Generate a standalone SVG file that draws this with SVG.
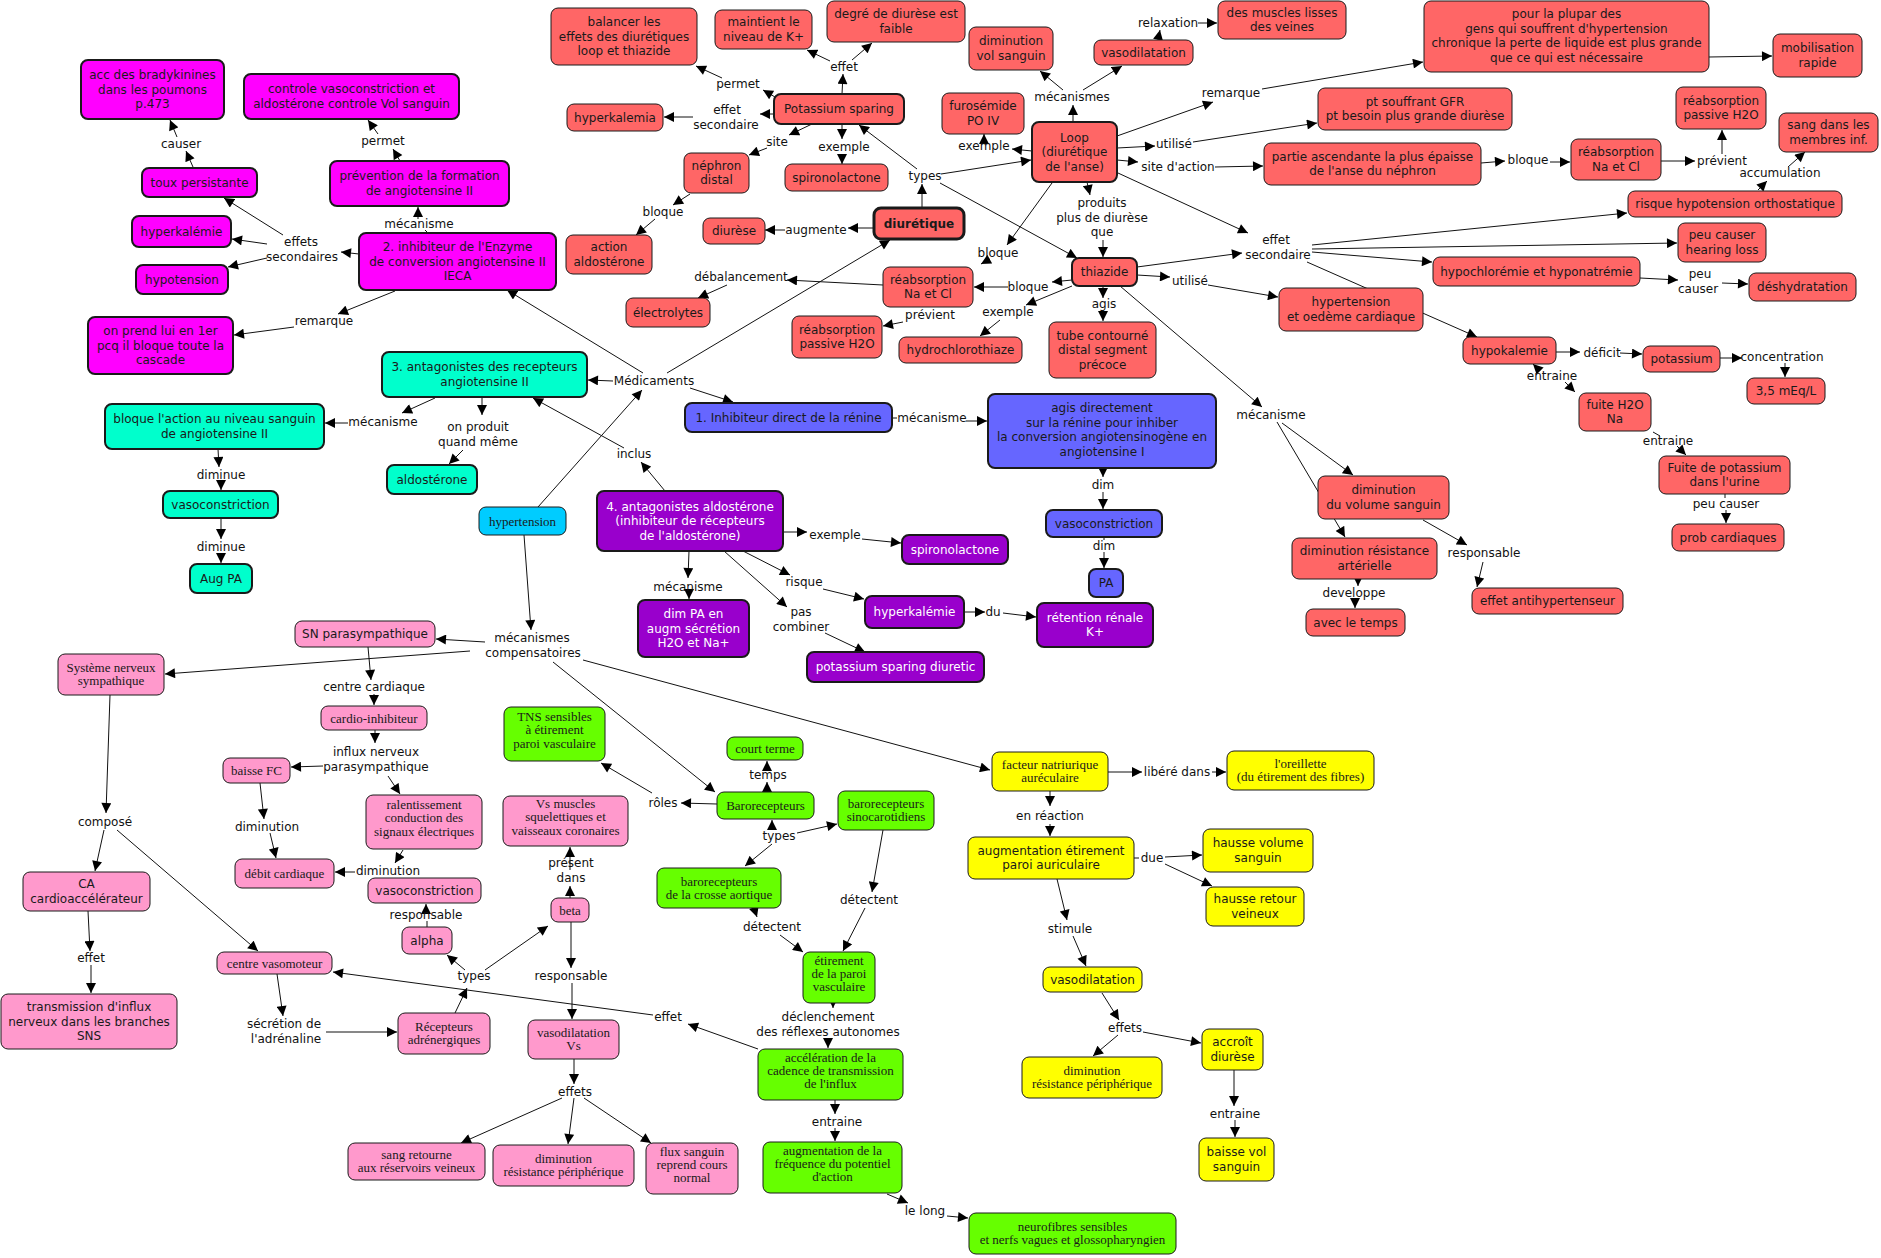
<svg xmlns="http://www.w3.org/2000/svg" width="1881" height="1258" viewBox="0 0 1881 1258">
<defs>
<marker id="ah" viewBox="0 0 10 10" refX="10" refY="5" markerWidth="11" markerHeight="10" markerUnits="userSpaceOnUse" orient="auto"><path d="M0,0 L10,5 L0,10 z" fill="#000"/></marker>
<style>
.n rect{stroke:#1a1a1a;stroke-width:1}
.red rect{fill:#FF6666}
.mag rect{fill:#FF00FF;stroke-width:2}
.teal rect{fill:#00FFCC;stroke-width:2}
.blue rect{fill:#6666FF;stroke-width:2}
.pur rect{fill:#9900CC;stroke-width:2}
.pur text{fill:#ffffff}
.cyan rect{fill:#00CCFF}
.pink rect{fill:#FF99CC}
.grn rect{fill:#66FF00}
.yel rect{fill:#FFFF00}
.n.b2 rect{stroke-width:2}
.n.b3 rect{stroke-width:3}
text{font-family:"DejaVu Sans",Verdana,sans-serif;font-size:12px;text-anchor:middle;fill:#1a1a1a}
.sf text{font-family:"Liberation Serif","Times New Roman",serif;font-size:13px}
.bold text{font-weight:bold}
#links line{stroke:#111;stroke-width:1;marker-end:url(#ah)}
#links line.p{marker-end:none}
#labels text{fill:#111}
</style>
</defs>
<rect width="1881" height="1258" fill="#ffffff"/>
<g id="links">
<line x1="193" y1="167" x2="186" y2="151"/>
<line x1="177" y1="137" x2="170" y2="120"/>
<line x1="400" y1="161" x2="393" y2="149"/>
<line x1="378" y1="134" x2="368" y2="120"/>
<line class="p" x1="428" y1="233" x2="425" y2="230"/>
<line x1="418" y1="219" x2="418" y2="207"/>
<line x1="359" y1="254" x2="341" y2="252"/>
<line x1="283" y1="235" x2="224" y2="198"/>
<line x1="267" y1="244" x2="232" y2="239"/>
<line x1="267" y1="258" x2="228" y2="267"/>
<line x1="395" y1="291" x2="338" y2="314"/>
<line x1="294" y1="327" x2="234" y2="335"/>
<line x1="435" y1="398" x2="402" y2="413"/>
<line x1="348" y1="423" x2="325" y2="423"/>
<line x1="482" y1="397" x2="482" y2="415"/>
<line x1="463" y1="450" x2="449" y2="464"/>
<line x1="218" y1="449" x2="219" y2="467"/>
<line x1="221" y1="482" x2="221" y2="490"/>
<line x1="221" y1="518" x2="221" y2="539"/>
<line x1="221" y1="554" x2="221" y2="563"/>
<line x1="538" y1="507" x2="642" y2="390"/>
<line x1="643" y1="373" x2="507" y2="290"/>
<line x1="613" y1="381" x2="588" y2="380"/>
<line x1="667" y1="373" x2="890" y2="240"/>
<line x1="690" y1="388" x2="733" y2="402"/>
<line x1="665" y1="491" x2="641" y2="462"/>
<line x1="624" y1="448" x2="533" y2="398"/>
<line x1="775" y1="97" x2="763" y2="90"/>
<line x1="722" y1="78" x2="696" y2="66"/>
<line x1="842" y1="94" x2="843" y2="74"/>
<line x1="830" y1="61" x2="807" y2="50"/>
<line x1="852" y1="60" x2="872" y2="43"/>
<line x1="774" y1="114" x2="760" y2="114"/>
<line x1="693" y1="117" x2="664" y2="117"/>
<line x1="812" y1="124" x2="789" y2="135"/>
<line x1="767" y1="148" x2="749" y2="155"/>
<line x1="842" y1="124" x2="842" y2="139"/>
<line x1="842" y1="154" x2="842" y2="164"/>
<line x1="922" y1="208" x2="922" y2="184"/>
<line x1="917" y1="169" x2="859" y2="125"/>
<line x1="941" y1="174" x2="1031" y2="160"/>
<line x1="940" y1="183" x2="1077" y2="258"/>
<line x1="690" y1="194" x2="673" y2="205"/>
<line x1="655" y1="219" x2="636" y2="235"/>
<line x1="874" y1="228" x2="848" y2="228"/>
<line x1="785" y1="230" x2="765" y2="230"/>
<line x1="883" y1="285" x2="787" y2="280"/>
<line x1="727" y1="285" x2="698" y2="298"/>
<line x1="903" y1="322" x2="883" y2="326"/>
<line x1="1073" y1="122" x2="1073" y2="105"/>
<line x1="1063" y1="90" x2="1040" y2="71"/>
<line x1="1083" y1="90" x2="1122" y2="66"/>
<line x1="1158" y1="40" x2="1160" y2="30"/>
<line x1="1198" y1="23" x2="1217" y2="23"/>
<line x1="1032" y1="151" x2="1012" y2="149"/>
<line x1="984" y1="140" x2="984" y2="134"/>
<line x1="1117" y1="136" x2="1213" y2="102"/>
<line x1="1262" y1="89" x2="1423" y2="62"/>
<line x1="1709" y1="57" x2="1772" y2="56"/>
<line x1="1117" y1="148" x2="1155" y2="146"/>
<line x1="1193" y1="142" x2="1317" y2="123"/>
<line x1="1117" y1="160" x2="1138" y2="162"/>
<line x1="1215" y1="167" x2="1263" y2="166"/>
<line x1="1481" y1="163" x2="1505" y2="161"/>
<line x1="1550" y1="162" x2="1570" y2="162"/>
<line x1="1661" y1="161" x2="1695" y2="161"/>
<line x1="1722" y1="154" x2="1722" y2="130"/>
<line x1="1087" y1="182" x2="1090" y2="195"/>
<line x1="1103" y1="240" x2="1103" y2="257"/>
<line x1="1052" y1="183" x2="1007" y2="245"/>
<line x1="990" y1="259" x2="981" y2="264"/>
<line x1="1118" y1="173" x2="1248" y2="233"/>
<line x1="1137" y1="267" x2="1242" y2="253"/>
<line x1="1072" y1="280" x2="1052" y2="282"/>
<line x1="1008" y1="287" x2="974" y2="287"/>
<line x1="1072" y1="286" x2="1026" y2="305"/>
<line x1="1000" y1="320" x2="980" y2="336"/>
<line x1="1103" y1="286" x2="1103" y2="298"/>
<line x1="1103" y1="310" x2="1103" y2="321"/>
<line x1="1137" y1="275" x2="1170" y2="277"/>
<line x1="1208" y1="285" x2="1278" y2="297"/>
<line x1="1120" y1="286" x2="1262" y2="407"/>
<line x1="1312" y1="245" x2="1627" y2="213"/>
<line x1="1312" y1="249" x2="1677" y2="243"/>
<line x1="1312" y1="252" x2="1432" y2="262"/>
<line x1="1307" y1="262" x2="1477" y2="337"/>
<line x1="1640" y1="278" x2="1678" y2="280"/>
<line x1="1722" y1="283" x2="1748" y2="284"/>
<line x1="1758" y1="190" x2="1767" y2="181"/>
<line x1="1788" y1="167" x2="1805" y2="152"/>
<line x1="1556" y1="352" x2="1580" y2="352"/>
<line x1="1620" y1="353" x2="1642" y2="354"/>
<line x1="1720" y1="358" x2="1742" y2="358"/>
<line x1="1785" y1="363" x2="1785" y2="377"/>
<line x1="1540" y1="371" x2="1533" y2="364"/>
<line x1="1565" y1="382" x2="1575" y2="392"/>
<line class="p" x1="1653" y1="432" x2="1660" y2="436"/>
<line x1="1677" y1="446" x2="1686" y2="455"/>
<line class="p" x1="1725" y1="494" x2="1725" y2="498"/>
<line x1="1726" y1="510" x2="1726" y2="523"/>
<line x1="1282" y1="423" x2="1353" y2="475"/>
<line x1="1277" y1="422" x2="1345" y2="537"/>
<line x1="1358" y1="579" x2="1358" y2="586"/>
<line x1="1355" y1="600" x2="1355" y2="608"/>
<line x1="1423" y1="520" x2="1467" y2="545"/>
<line x1="1483" y1="562" x2="1477" y2="587"/>
<line class="p" x1="892" y1="418" x2="897" y2="418"/>
<line x1="966" y1="421" x2="987" y2="421"/>
<line x1="1103" y1="468" x2="1103" y2="477"/>
<line x1="1103" y1="492" x2="1103" y2="509"/>
<line class="p" x1="1104" y1="537" x2="1104" y2="540"/>
<line x1="1104" y1="552" x2="1104" y2="568"/>
<line x1="783" y1="532" x2="807" y2="532"/>
<line x1="862" y1="539" x2="901" y2="543"/>
<line x1="689" y1="551" x2="688" y2="578"/>
<line x1="689" y1="593" x2="689" y2="599"/>
<line x1="743" y1="551" x2="790" y2="575"/>
<line x1="823" y1="589" x2="864" y2="599"/>
<line x1="724" y1="551" x2="787" y2="607"/>
<line x1="825" y1="633" x2="865" y2="652"/>
<line x1="964" y1="612" x2="985" y2="612"/>
<line x1="1003" y1="613" x2="1036" y2="617"/>
<line x1="524" y1="535" x2="531" y2="630"/>
<line x1="485" y1="642" x2="436" y2="639"/>
<line x1="470" y1="651" x2="165" y2="674"/>
<line x1="553" y1="662" x2="715" y2="792"/>
<line x1="583" y1="660" x2="990" y2="770"/>
<line x1="368" y1="647" x2="371" y2="680"/>
<line x1="374" y1="694" x2="374" y2="705"/>
<line x1="375" y1="730" x2="375" y2="743"/>
<line x1="323" y1="766" x2="291" y2="767"/>
<line x1="388" y1="776" x2="400" y2="794"/>
<line x1="110" y1="695" x2="106" y2="813"/>
<line x1="260" y1="783" x2="264" y2="819"/>
<line x1="104" y1="830" x2="95" y2="871"/>
<line x1="117" y1="830" x2="258" y2="951"/>
<line x1="270" y1="833" x2="276" y2="858"/>
<line x1="403" y1="850" x2="395" y2="863"/>
<line x1="355" y1="872" x2="335" y2="872"/>
<line x1="88" y1="911" x2="90" y2="951"/>
<line x1="91" y1="965" x2="91" y2="993"/>
<line x1="277" y1="974" x2="283" y2="1016"/>
<line x1="326" y1="1032" x2="397" y2="1032"/>
<line class="p" x1="427" y1="927" x2="427" y2="921"/>
<line x1="426" y1="909" x2="426" y2="904"/>
<line x1="465" y1="970" x2="447" y2="955"/>
<line x1="455" y1="1013" x2="467" y2="988"/>
<line x1="485" y1="970" x2="548" y2="926"/>
<line x1="570" y1="898" x2="570" y2="886"/>
<line x1="570" y1="870" x2="570" y2="847"/>
<line x1="571" y1="922" x2="571" y2="968"/>
<line x1="572" y1="983" x2="572" y2="1019"/>
<line x1="574" y1="1059" x2="574" y2="1084"/>
<line x1="562" y1="1098" x2="461" y2="1143"/>
<line x1="574" y1="1098" x2="568" y2="1144"/>
<line x1="584" y1="1098" x2="651" y2="1143"/>
<line x1="653" y1="1015" x2="333" y2="972"/>
<line x1="758" y1="1049" x2="688" y2="1024"/>
<line x1="767" y1="792" x2="767" y2="782"/>
<line x1="767" y1="768" x2="767" y2="761"/>
<line x1="717" y1="804" x2="681" y2="803"/>
<line x1="652" y1="793" x2="601" y2="763"/>
<line x1="772" y1="828" x2="772" y2="820"/>
<line x1="797" y1="833" x2="837" y2="824"/>
<line x1="772" y1="844" x2="745" y2="866"/>
<line x1="754" y1="908" x2="757" y2="917"/>
<line x1="780" y1="935" x2="803" y2="952"/>
<line x1="883" y1="830" x2="872" y2="892"/>
<line x1="865" y1="908" x2="843" y2="951"/>
<line x1="833" y1="1003" x2="833" y2="1008"/>
<line x1="828" y1="1038" x2="828" y2="1048"/>
<line x1="835" y1="1100" x2="835" y2="1114"/>
<line x1="835" y1="1128" x2="835" y2="1141"/>
<line x1="887" y1="1194" x2="908" y2="1203"/>
<line x1="947" y1="1216" x2="968" y2="1218"/>
<line x1="1050" y1="791" x2="1050" y2="806"/>
<line x1="1050" y1="824" x2="1050" y2="836"/>
<line x1="1108" y1="772" x2="1142" y2="772"/>
<line x1="1212" y1="772" x2="1226" y2="772"/>
<line class="p" x1="1134" y1="858" x2="1139" y2="858"/>
<line x1="1165" y1="857" x2="1202" y2="855"/>
<line x1="1165" y1="864" x2="1212" y2="886"/>
<line x1="1057" y1="879" x2="1067" y2="920"/>
<line x1="1073" y1="936" x2="1086" y2="966"/>
<line x1="1102" y1="993" x2="1119" y2="1020"/>
<line x1="1118" y1="1035" x2="1093" y2="1056"/>
<line x1="1143" y1="1032" x2="1201" y2="1043"/>
<line x1="1234" y1="1070" x2="1234" y2="1106"/>
<line x1="1235" y1="1120" x2="1235" y2="1137"/>
</g>
<g id="labels">
<text x="181" y="148">causer</text>
<text x="383" y="145">permet</text>
<text x="419" y="228">mécanisme</text>
<text x="301" y="246"><tspan x="301">effets</tspan><tspan x="302" dy="15">secondaires</tspan></text>
<text x="324" y="325">remarque</text>
<text x="738" y="88">permet</text>
<text x="844" y="71">effet</text>
<text x="727" y="114"><tspan x="727">effet</tspan><tspan x="726" dy="14.5">secondaire</tspan></text>
<text x="777" y="146">site</text>
<text x="844" y="151">exemple</text>
<text x="925" y="180">types</text>
<text x="663" y="216">bloque</text>
<text x="816" y="234">augmente</text>
<text x="741" y="281">débalancement</text>
<text x="930" y="319">prévient</text>
<text x="654" y="385">Médicaments</text>
<text x="1168" y="27">relaxation</text>
<text x="1072" y="101">mécanismes</text>
<text x="1231" y="97">remarque</text>
<text x="984" y="150">exemple</text>
<text x="1174" y="148">utilisé</text>
<text x="1178" y="171">site d'action</text>
<text x="1102" y="207"><tspan x="1102">produits</tspan><tspan x="1102" dy="14.5">plus de diurèse</tspan><tspan x="1102" dy="14.5">que</tspan></text>
<text x="998" y="257">bloque</text>
<text x="1028" y="291">bloque</text>
<text x="1008" y="316">exemple</text>
<text x="1104" y="308">agis</text>
<text x="1190" y="285">utilisé</text>
<text x="1277" y="244"><tspan x="1276">effet</tspan><tspan x="1278" dy="14.5">secondaire</tspan></text>
<text x="1271" y="419">mécanisme</text>
<text x="1528" y="164">bloque</text>
<text x="1722" y="165">prévient</text>
<text x="1780" y="177">accumulation</text>
<text x="1699" y="278"><tspan x="1700">peu</tspan><tspan x="1698" dy="14.5">causer</tspan></text>
<text x="1602" y="357">déficit</text>
<text x="1782" y="361">concentration</text>
<text x="1552" y="380">entraine</text>
<text x="1668" y="445">entraine</text>
<text x="1726" y="508">peu causer</text>
<text x="1484" y="557">responsable</text>
<text x="932" y="422">mécanisme</text>
<text x="1103" y="489">dim</text>
<text x="1104" y="550">dim</text>
<text x="993" y="616">du</text>
<text x="1354" y="597">developpe</text>
<text x="1177" y="776">libéré dans</text>
<text x="1050" y="820">en réaction</text>
<text x="634" y="458">inclus</text>
<text x="835" y="539">exemple</text>
<text x="688" y="591">mécanisme</text>
<text x="804" y="586">risque</text>
<text x="801" y="616"><tspan x="801">pas</tspan><tspan x="801" dy="14.5">combiner</tspan></text>
<text x="532" y="642"><tspan x="532">mécanismes</tspan><tspan x="533" dy="15">compensatoires</tspan></text>
<text x="768" y="779">temps</text>
<text x="663" y="807">rôles</text>
<text x="779" y="840">types</text>
<text x="383" y="426">mécanisme</text>
<text x="478" y="431"><tspan x="478">on produit</tspan><tspan x="478" dy="15">quand même</tspan></text>
<text x="221" y="479">diminue</text>
<text x="221" y="551">diminue</text>
<text x="374" y="691">centre cardiaque</text>
<text x="376" y="756"><tspan x="376">influx nerveux</tspan><tspan x="376" dy="15">parasympathique</tspan></text>
<text x="105" y="826">composé</text>
<text x="267" y="831">diminution</text>
<text x="388" y="875">diminution</text>
<text x="426" y="919">responsable</text>
<text x="91" y="962">effet</text>
<text x="285" y="1028"><tspan x="284">sécrétion de</tspan><tspan x="286" dy="15">l'adrénaline</tspan></text>
<text x="474" y="980">types</text>
<text x="571" y="867"><tspan x="571">présent</tspan><tspan x="571" dy="15">dans</tspan></text>
<text x="571" y="980">responsable</text>
<text x="668" y="1021">effet</text>
<text x="575" y="1096">effets</text>
<text x="772" y="931">détectent</text>
<text x="869" y="904">détectent</text>
<text x="828" y="1021"><tspan x="828">déclenchement</tspan><tspan x="828" dy="15">des réflexes autonomes</tspan></text>
<text x="837" y="1126">entraine</text>
<text x="925" y="1215">le long</text>
<text x="1152" y="862">due</text>
<text x="1070" y="933">stimule</text>
<text x="1125" y="1032">effets</text>
<text x="1235" y="1118">entraine</text>
</g>
<g id="n-balancer" class="n red"><rect x="551" y="8" width="146" height="57" rx="7"/><text x="624" y="26"><tspan x="624">balancer les</tspan><tspan x="624" dy="14.5">effets des diurétiques</tspan><tspan x="624" dy="14.5">loop et thiazide</tspan></text></g>
<g id="n-maintient" class="n red"><rect x="715" y="10" width="97" height="39" rx="7"/><text x="763.5" y="26"><tspan x="763.5">maintient le</tspan><tspan x="763.5" dy="14.5">niveau de K+</tspan></text></g>
<g id="n-degre" class="n red"><rect x="827" y="1" width="138" height="41" rx="7"/><text x="896" y="18"><tspan x="896">degré de diurèse est</tspan><tspan x="896" dy="14.5">faible</tspan></text></g>
<g id="n-potassium-sparing" class="n red b2"><rect x="774" y="94" width="130" height="30" rx="7"/><text x="839" y="113">Potassium sparing</text></g>
<g id="n-hyperkalemia" class="n red"><rect x="567" y="104" width="96" height="27" rx="7"/><text x="615" y="121.5">hyperkalemia</text></g>
<g id="n-nephron" class="n red"><rect x="684" y="153" width="65" height="40" rx="7"/><text x="716.5" y="169.5"><tspan x="716.5">néphron</tspan><tspan x="716.5" dy="14.5">distal</tspan></text></g>
<g id="n-spiro-red" class="n red"><rect x="785" y="164" width="103" height="27" rx="7"/><text x="836.5" y="181.5">spironolactone</text></g>
<g id="n-diurese" class="n red"><rect x="703" y="218" width="62" height="26" rx="7"/><text x="734" y="235">diurèse</text></g>
<g id="n-diuretique" class="n red b3 bold"><rect x="874" y="208" width="90" height="31" rx="7"/><text x="919" y="227.5">diurétique</text></g>
<g id="n-action-aldo" class="n red"><rect x="566" y="235" width="86" height="39" rx="7"/><text x="609" y="251"><tspan x="609">action</tspan><tspan x="609" dy="14.5">aldostérone</tspan></text></g>
<g id="n-electrolytes" class="n red"><rect x="626" y="298" width="84" height="29" rx="7"/><text x="668" y="316.5">électrolytes</text></g>
<g id="n-reab-nacl-t" class="n red"><rect x="883" y="267" width="90" height="40" rx="7"/><text x="928" y="283.5"><tspan x="928">réabsorption</tspan><tspan x="928" dy="14.5">Na et Cl</tspan></text></g>
<g id="n-reab-h2o-t" class="n red"><rect x="792" y="316" width="90" height="42" rx="7"/><text x="837" y="333.5"><tspan x="837">réabsorption</tspan><tspan x="837" dy="14.5">passive H2O</tspan></text></g>
<g id="n-hydro" class="n red"><rect x="899" y="337" width="123" height="26" rx="7"/><text x="960.5" y="354">hydrochlorothiaze</text></g>
<g id="n-dim-vol" class="n red"><rect x="969" y="27" width="84" height="43" rx="7"/><text x="1011" y="45"><tspan x="1011">diminution</tspan><tspan x="1011" dy="14.5">vol sanguin</tspan></text></g>
<g id="n-vasodil-red" class="n red"><rect x="1094" y="40" width="99" height="25" rx="7"/><text x="1143.5" y="56.5">vasodilatation</text></g>
<g id="n-muscles" class="n red"><rect x="1218" y="1" width="128" height="38" rx="7"/><text x="1282" y="16.5"><tspan x="1282">des muscles lisses</tspan><tspan x="1282" dy="14.5">des veines</tspan></text></g>
<g id="n-furosemide" class="n red"><rect x="942" y="93" width="82" height="41" rx="7"/><text x="983" y="110"><tspan x="983">furosémide</tspan><tspan x="983" dy="14.5">PO IV</tspan></text></g>
<g id="n-loop" class="n red b2"><rect x="1032" y="122" width="85" height="60" rx="7"/><text x="1074.5" y="141.5"><tspan x="1074.5">Loop</tspan><tspan x="1074.5" dy="14.5">(diurétique</tspan><tspan x="1074.5" dy="14.5">de l'anse)</tspan></text></g>
<g id="n-pt-souffrant" class="n red"><rect x="1318" y="88" width="194" height="42" rx="7"/><text x="1415" y="105.5"><tspan x="1415">pt souffrant GFR</tspan><tspan x="1415" dy="14.5">pt besoin plus grande diurèse</tspan></text></g>
<g id="n-partie" class="n red"><rect x="1264" y="143" width="217" height="42" rx="7"/><text x="1372.5" y="160.5"><tspan x="1372.5">partie ascendante la plus épaisse</tspan><tspan x="1372.5" dy="14.5">de l'anse du néphron</tspan></text></g>
<g id="n-thiazide" class="n red b2"><rect x="1072" y="258" width="65" height="28" rx="7"/><text x="1104.5" y="276">thiazide</text></g>
<g id="n-tube" class="n red"><rect x="1049" y="322" width="107" height="56" rx="7"/><text x="1102.5" y="339.5"><tspan x="1102.5">tube contourné</tspan><tspan x="1102.5" dy="14.5">distal segment</tspan><tspan x="1102.5" dy="14.5">précoce</tspan></text></g>
<g id="n-hypertension-oedeme" class="n red"><rect x="1279" y="288" width="144" height="43" rx="7"/><text x="1351" y="306"><tspan x="1351">hypertension</tspan><tspan x="1351" dy="14.5">et oedème cardiaque</tspan></text></g>
<g id="n-plupar" class="n red"><rect x="1424" y="1" width="285" height="71" rx="7"/><text x="1566.5" y="18"><tspan x="1566.5">pour la plupar des</tspan><tspan x="1566.5" dy="14.5">gens qui souffrent d'hypertension</tspan><tspan x="1566.5" dy="14.5">chronique la perte de liquide est plus grande</tspan><tspan x="1566.5" dy="14.5">que ce qui est nécessaire</tspan></text></g>
<g id="n-mobilisation" class="n red"><rect x="1773" y="34" width="89" height="43" rx="7"/><text x="1817.5" y="52"><tspan x="1817.5">mobilisation</tspan><tspan x="1817.5" dy="14.5">rapide</tspan></text></g>
<g id="n-reab-h2o-l" class="n red"><rect x="1676" y="87" width="90" height="42" rx="7"/><text x="1721" y="104.5"><tspan x="1721">réabsorption</tspan><tspan x="1721" dy="14.5">passive H2O</tspan></text></g>
<g id="n-sang-membres" class="n red"><rect x="1779" y="113" width="99" height="39" rx="7"/><text x="1828.5" y="129"><tspan x="1828.5">sang dans les</tspan><tspan x="1828.5" dy="14.5">membres inf.</tspan></text></g>
<g id="n-reab-nacl-l" class="n red"><rect x="1571" y="139" width="90" height="41" rx="7"/><text x="1616" y="156"><tspan x="1616">réabsorption</tspan><tspan x="1616" dy="14.5">Na et Cl</tspan></text></g>
<g id="n-risque-hypo" class="n red"><rect x="1628" y="191" width="214" height="26" rx="7"/><text x="1735" y="208">risque hypotension orthostatique</text></g>
<g id="n-hearing" class="n red"><rect x="1678" y="223" width="88" height="39" rx="7"/><text x="1722" y="239"><tspan x="1722">peu causer</tspan><tspan x="1722" dy="14.5">hearing loss</tspan></text></g>
<g id="n-hypochloremie" class="n red"><rect x="1433" y="257" width="207" height="29" rx="7"/><text x="1536.5" y="275.5">hypochlorémie et hyponatrémie</text></g>
<g id="n-deshydratation" class="n red"><rect x="1749" y="273" width="107" height="28" rx="7"/><text x="1802.5" y="291">déshydratation</text></g>
<g id="n-hypokalemie" class="n red"><rect x="1463" y="337" width="93" height="27" rx="7"/><text x="1509.5" y="354.5">hypokalemie</text></g>
<g id="n-potassium" class="n red"><rect x="1643" y="346" width="77" height="26" rx="7"/><text x="1681.5" y="363">potassium</text></g>
<g id="n-meq" class="n red"><rect x="1747" y="378" width="78" height="26" rx="7"/><text x="1786" y="395">3,5 mEq/L</text></g>
<g id="n-fuite-h2o" class="n red"><rect x="1579" y="393" width="72" height="38" rx="7"/><text x="1615" y="408.5"><tspan x="1615">fuite H2O</tspan><tspan x="1615" dy="14.5">Na</tspan></text></g>
<g id="n-fuite-k" class="n red"><rect x="1659" y="456" width="131" height="38" rx="7"/><text x="1724.5" y="471.5"><tspan x="1724.5">Fuite de potassium</tspan><tspan x="1724.5" dy="14.5">dans l'urine</tspan></text></g>
<g id="n-prob-card" class="n red"><rect x="1672" y="524" width="112" height="27" rx="7"/><text x="1728" y="541.5">prob cardiaques</text></g>
<g id="n-dim-volume" class="n red"><rect x="1318" y="476" width="131" height="43" rx="7"/><text x="1383.5" y="494"><tspan x="1383.5">diminution</tspan><tspan x="1383.5" dy="14.5">du volume sanguin</tspan></text></g>
<g id="n-dim-resist-art" class="n red"><rect x="1292" y="538" width="145" height="41" rx="7"/><text x="1364.5" y="555"><tspan x="1364.5">diminution résistance</tspan><tspan x="1364.5" dy="14.5">artérielle</tspan></text></g>
<g id="n-avec-temps" class="n red"><rect x="1306" y="609" width="99" height="27" rx="7"/><text x="1355.5" y="626.5">avec le temps</text></g>
<g id="n-antihyp" class="n red"><rect x="1472" y="588" width="151" height="26" rx="7"/><text x="1547.5" y="605">effet antihypertenseur</text></g>
<g id="n-acc" class="n mag"><rect x="81" y="60" width="143" height="59" rx="7"/><text x="152.5" y="79"><tspan x="152.5">acc des bradykinines</tspan><tspan x="152.5" dy="14.5">dans les poumons</tspan><tspan x="152.5" dy="14.5">p.473</tspan></text></g>
<g id="n-controle" class="n mag"><rect x="244" y="74" width="215" height="45" rx="7"/><text x="351.5" y="93"><tspan x="351.5">controle vasoconstriction et</tspan><tspan x="351.5" dy="14.5">aldostérone controle Vol sanguin</tspan></text></g>
<g id="n-toux" class="n mag"><rect x="142" y="168" width="115" height="29" rx="7"/><text x="199.5" y="186.5">toux persistante</text></g>
<g id="n-hyperkalemie-m" class="n mag"><rect x="132" y="216" width="99" height="31" rx="7"/><text x="181.5" y="235.5">hyperkalémie</text></g>
<g id="n-hypotension-m" class="n mag"><rect x="136" y="265" width="92" height="29" rx="7"/><text x="182" y="283.5">hypotension</text></g>
<g id="n-on-prend" class="n mag"><rect x="88" y="317" width="145" height="57" rx="7"/><text x="160.5" y="335"><tspan x="160.5">on prend lui en 1er</tspan><tspan x="160.5" dy="14.5">pcq il bloque toute la</tspan><tspan x="160.5" dy="14.5">cascade</tspan></text></g>
<g id="n-prevention" class="n mag"><rect x="330" y="161" width="179" height="45" rx="7"/><text x="419.5" y="180"><tspan x="419.5">prévention de la formation</tspan><tspan x="419.5" dy="14.5">de angiotensine II</tspan></text></g>
<g id="n-ieca" class="n mag"><rect x="359" y="233" width="197" height="57" rx="7"/><text x="457.5" y="251"><tspan x="457.5">2. inhibiteur de l'Enzyme</tspan><tspan x="457.5" dy="14.5">de conversion angiotensine II</tspan><tspan x="457.5" dy="14.5">IECA</tspan></text></g>
<g id="n-ara" class="n teal"><rect x="382" y="352" width="205" height="45" rx="7"/><text x="484.5" y="371"><tspan x="484.5">3. antagonistes des recepteurs</tspan><tspan x="484.5" dy="14.5">angiotensine II</tspan></text></g>
<g id="n-bloque-action" class="n teal"><rect x="105" y="404" width="219" height="45" rx="7"/><text x="214.5" y="423"><tspan x="214.5">bloque l'action au niveau sanguin</tspan><tspan x="214.5" dy="14.5">de angiotensine II</tspan></text></g>
<g id="n-vasocon-teal" class="n teal"><rect x="163" y="491" width="115" height="27" rx="7"/><text x="220.5" y="508.5">vasoconstriction</text></g>
<g id="n-aug-pa" class="n teal"><rect x="190" y="564" width="62" height="29" rx="7"/><text x="221" y="582.5">Aug PA</text></g>
<g id="n-aldosterone" class="n teal"><rect x="387" y="465" width="90" height="29" rx="7"/><text x="432" y="483.5">aldostérone</text></g>
<g id="n-renine" class="n blue"><rect x="685" y="403" width="207" height="29" rx="7"/><text x="788.5" y="421.5">1. Inhibiteur direct de la rénine</text></g>
<g id="n-agis" class="n blue"><rect x="988" y="394" width="228" height="74" rx="7"/><text x="1102" y="412"><tspan x="1102">agis directement</tspan><tspan x="1102" dy="14.5">sur la rénine pour inhiber</tspan><tspan x="1102" dy="14.5">la conversion angiotensinogène en</tspan><tspan x="1102" dy="14.5">angiotensine I</tspan></text></g>
<g id="n-vasocon-blue" class="n blue"><rect x="1046" y="510" width="116" height="27" rx="7"/><text x="1104" y="527.5">vasoconstriction</text></g>
<g id="n-pa" class="n blue"><rect x="1089" y="569" width="34" height="28" rx="7"/><text x="1106" y="587">PA</text></g>
<g id="n-anta-aldo" class="n pur"><rect x="597" y="491" width="186" height="60" rx="7"/><text x="690" y="510.5"><tspan x="690">4. antagonistes aldostérone</tspan><tspan x="690" dy="14.5">(inhibiteur de récepteurs</tspan><tspan x="690" dy="14.5">de l'aldostérone)</tspan></text></g>
<g id="n-dim-pa" class="n pur"><rect x="638" y="600" width="111" height="57" rx="7"/><text x="693.5" y="618"><tspan x="693.5">dim PA en</tspan><tspan x="693.5" dy="14.5">augm sécrétion</tspan><tspan x="693.5" dy="14.5">H2O et Na+</tspan></text></g>
<g id="n-spiro-pur" class="n pur"><rect x="902" y="535" width="106" height="29" rx="7"/><text x="955" y="553.5">spironolactone</text></g>
<g id="n-hyperkal-pur" class="n pur"><rect x="865" y="596" width="99" height="32" rx="7"/><text x="914.5" y="616">hyperkalémie</text></g>
<g id="n-ksparing" class="n pur"><rect x="807" y="652" width="177" height="30" rx="7"/><text x="895.5" y="671">potassium sparing diuretic</text></g>
<g id="n-retention" class="n pur"><rect x="1037" y="603" width="116" height="44" rx="7"/><text x="1095" y="621.5"><tspan x="1095">rétention rénale</tspan><tspan x="1095" dy="14.5">K+</tspan></text></g>
<g id="n-hypertension" class="n cyan sf"><rect x="479" y="507" width="87" height="28" rx="7"/><text x="522.5" y="525.5">hypertension</text></g>
<g id="n-sn-para" class="n pink"><rect x="295" y="621" width="140" height="26" rx="7"/><text x="365" y="638">SN parasympathique</text></g>
<g id="n-sns" class="n pink sf"><rect x="58" y="654" width="106" height="41" rx="7"/><text x="111" y="672"><tspan x="111">Système nerveux</tspan><tspan x="111" dy="13.3">sympathique</tspan></text></g>
<g id="n-cardio-inhib" class="n pink sf"><rect x="321" y="706" width="106" height="24" rx="7"/><text x="374" y="722.5">cardio-inhibiteur</text></g>
<g id="n-baisse-fc" class="n pink sf"><rect x="223" y="758" width="67" height="25" rx="7"/><text x="256.5" y="775">baisse FC</text></g>
<g id="n-ralentissement" class="n pink sf"><rect x="366" y="795" width="116" height="54" rx="7"/><text x="424" y="809"><tspan x="424">ralentissement</tspan><tspan x="424" dy="13.3">conduction des</tspan><tspan x="424" dy="13.3">signaux électriques</tspan></text></g>
<g id="n-debit" class="n pink sf"><rect x="235" y="859" width="99" height="29" rx="7"/><text x="284.5" y="878">débit cardiaque</text></g>
<g id="n-vasocon-pink" class="n pink"><rect x="368" y="878" width="113" height="25" rx="7"/><text x="424.5" y="894.5">vasoconstriction</text></g>
<g id="n-alpha" class="n pink"><rect x="402" y="927" width="50" height="27" rx="7"/><text x="427" y="944.5">alpha</text></g>
<g id="n-centre-vaso" class="n pink sf"><rect x="217" y="952" width="115" height="22" rx="7"/><text x="274.5" y="967.5">centre vasomoteur</text></g>
<g id="n-ca" class="n pink"><rect x="23" y="872" width="127" height="39" rx="7"/><text x="86.5" y="888"><tspan x="86.5">CA</tspan><tspan x="86.5" dy="14.5">cardioaccélérateur</tspan></text></g>
<g id="n-transmission" class="n pink"><rect x="1" y="994" width="176" height="55" rx="7"/><text x="89" y="1011"><tspan x="89">transmission d'influx</tspan><tspan x="89" dy="14.5">nerveux dans les branches</tspan><tspan x="89" dy="14.5">SNS</tspan></text></g>
<g id="n-recepteurs" class="n pink sf"><rect x="398" y="1013" width="92" height="41" rx="7"/><text x="444" y="1031"><tspan x="444">Récepteurs</tspan><tspan x="444" dy="13.3">adrénergiques</tspan></text></g>
<g id="n-vs-muscles" class="n pink sf"><rect x="503" y="796" width="125" height="50" rx="7"/><text x="565.5" y="808"><tspan x="565.5">Vs muscles</tspan><tspan x="565.5" dy="13.3">squelettiques et</tspan><tspan x="565.5" dy="13.3">vaisseaux coronaires</tspan></text></g>
<g id="n-beta" class="n pink sf"><rect x="551" y="898" width="38" height="24" rx="7"/><text x="570" y="914.5">beta</text></g>
<g id="n-vasodil-vs" class="n pink sf"><rect x="528" y="1020" width="91" height="39" rx="7"/><text x="573.5" y="1037"><tspan x="573.5">vasodilatation</tspan><tspan x="573.5" dy="13.3">Vs</tspan></text></g>
<g id="n-sang-retourne" class="n pink sf"><rect x="348" y="1143" width="137" height="37" rx="7"/><text x="416.5" y="1159"><tspan x="416.5">sang retourne</tspan><tspan x="416.5" dy="13.3">aux réservoirs veineux</tspan></text></g>
<g id="n-dim-resist-pink" class="n pink sf"><rect x="493" y="1145" width="141" height="41" rx="7"/><text x="563.5" y="1163"><tspan x="563.5">diminution</tspan><tspan x="563.5" dy="13.3">résistance périphérique</tspan></text></g>
<g id="n-flux" class="n pink sf"><rect x="646" y="1143" width="92" height="51" rx="7"/><text x="692" y="1155.5"><tspan x="692">flux sanguin</tspan><tspan x="692" dy="13.3">reprend cours</tspan><tspan x="692" dy="13.3">normal</tspan></text></g>
<g id="n-tns" class="n grn sf"><rect x="504" y="707" width="101" height="54" rx="7"/><text x="554.5" y="721"><tspan x="554.5">TNS sensibles</tspan><tspan x="554.5" dy="13.3">à étirement</tspan><tspan x="554.5" dy="13.3">paroi vasculaire</tspan></text></g>
<g id="n-court-terme" class="n grn sf"><rect x="727" y="737" width="76" height="23" rx="7"/><text x="765" y="753">court terme</text></g>
<g id="n-baro" class="n grn sf"><rect x="717" y="792" width="97" height="27" rx="7"/><text x="765.5" y="810">Barorecepteurs</text></g>
<g id="n-sino" class="n grn sf"><rect x="838" y="791" width="96" height="39" rx="7"/><text x="886" y="808"><tspan x="886">barorecepteurs</tspan><tspan x="886" dy="13.3">sinocarotidiens</tspan></text></g>
<g id="n-crosse" class="n grn sf"><rect x="657" y="868" width="124" height="40" rx="7"/><text x="719" y="885.5"><tspan x="719">barorecepteurs</tspan><tspan x="719" dy="13.3">de la crosse aortique</tspan></text></g>
<g id="n-etirement" class="n grn sf"><rect x="803" y="952" width="72" height="51" rx="7"/><text x="839" y="964.5"><tspan x="839">étirement</tspan><tspan x="839" dy="13.3">de la paroi</tspan><tspan x="839" dy="13.3">vasculaire</tspan></text></g>
<g id="n-acceleration" class="n grn sf"><rect x="758" y="1049" width="145" height="51" rx="7"/><text x="830.5" y="1061.5"><tspan x="830.5">accélération de la</tspan><tspan x="830.5" dy="13.3">cadence de transmission</tspan><tspan x="830.5" dy="13.3">de l'influx</tspan></text></g>
<g id="n-aug-freq" class="n grn sf"><rect x="763" y="1142" width="139" height="51" rx="7"/><text x="832.5" y="1154.5"><tspan x="832.5">augmentation de la</tspan><tspan x="832.5" dy="13.3">fréquence du potentiel</tspan><tspan x="832.5" dy="13.3">d'action</tspan></text></g>
<g id="n-neurofibres" class="n grn sf"><rect x="969" y="1213" width="207" height="41" rx="7"/><text x="1072.5" y="1231"><tspan x="1072.5">neurofibres sensibles</tspan><tspan x="1072.5" dy="13.3">et nerfs vagues et glossopharyngien</tspan></text></g>
<g id="n-facteur" class="n yel sf"><rect x="992" y="752" width="116" height="39" rx="7"/><text x="1050" y="769"><tspan x="1050">facteur natriurique</tspan><tspan x="1050" dy="13.3">auréculaire</tspan></text></g>
<g id="n-oreillette" class="n yel sf"><rect x="1227" y="751" width="147" height="39" rx="7"/><text x="1300.5" y="768"><tspan x="1300.5">l'oreillette</tspan><tspan x="1300.5" dy="13.3">(du étirement des fibres)</tspan></text></g>
<g id="n-aug-etirement" class="n yel"><rect x="968" y="837" width="166" height="42" rx="7"/><text x="1051" y="854.5"><tspan x="1051">augmentation étirement</tspan><tspan x="1051" dy="14.5">paroi auriculaire</tspan></text></g>
<g id="n-hausse-vol" class="n yel"><rect x="1203" y="829" width="110" height="43" rx="7"/><text x="1258" y="847"><tspan x="1258">hausse volume</tspan><tspan x="1258" dy="14.5">sanguin</tspan></text></g>
<g id="n-hausse-retour" class="n yel"><rect x="1206" y="887" width="98" height="39" rx="7"/><text x="1255" y="903"><tspan x="1255">hausse retour</tspan><tspan x="1255" dy="14.5">veineux</tspan></text></g>
<g id="n-vasodil-yel" class="n yel"><rect x="1043" y="967" width="99" height="25" rx="7"/><text x="1092.5" y="983.5">vasodilatation</text></g>
<g id="n-dim-resist-yel" class="n yel sf"><rect x="1022" y="1057" width="140" height="41" rx="7"/><text x="1092" y="1075"><tspan x="1092">diminution</tspan><tspan x="1092" dy="13.3">résistance périphérique</tspan></text></g>
<g id="n-accroit" class="n yel"><rect x="1202" y="1029" width="61" height="41" rx="7"/><text x="1232.5" y="1046"><tspan x="1232.5">accroît</tspan><tspan x="1232.5" dy="14.5">diurèse</tspan></text></g>
<g id="n-baisse-vol" class="n yel"><rect x="1199" y="1138" width="75" height="43" rx="7"/><text x="1236.5" y="1156"><tspan x="1236.5">baisse vol</tspan><tspan x="1236.5" dy="14.5">sanguin</tspan></text></g>
</svg>
